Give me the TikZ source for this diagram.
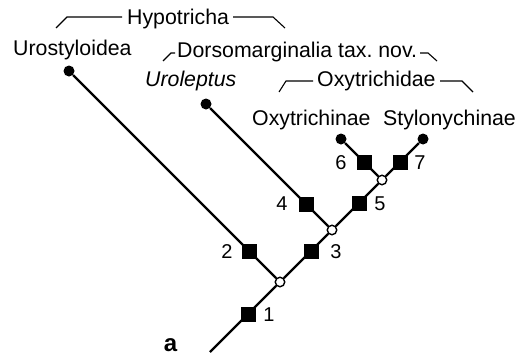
\documentclass[tikz,border=0pt]{standalone}
\usepackage{fontspec}
\setmainfont{Liberation Sans}
\frenchspacing
\begin{document}
\begin{tikzpicture}[x=1pt,y=-1pt,
  branch/.style={line width=2.2pt},
  brk/.style={line width=1.1pt},
  apo/.style={rectangle,fill=black,minimum size=15pt,inner sep=0pt},
  split/.style={circle,draw=black,fill=white,line width=1.4pt,minimum size=9.5pt,inner sep=0pt},
  tip/.style={circle,fill=black,minimum size=11pt,inner sep=0pt},
  taxon/.style={anchor=base west,inner sep=0pt,font=\fontsize{21.3}{25}\selectfont},
  num/.style={inner sep=0pt,font=\fontsize{20}{24}\selectfont}]
\useasboundingbox (0,0) rectangle (515,356);
% tree nodes
\coordinate (root) at (210,352);
\node[split] (c1) at (280,282) {};
\node[split] (c3) at (332,230) {};
\node[split] (c5) at (382,180) {};
\node[tip] (lu) at (69,71) {};
\node[tip] (lr) at (206,104) {};
\node[tip] (l6) at (341,139) {};
\node[tip] (l7) at (423,139) {};
% branches
\draw[branch] (root) -- (c1);
\draw[branch] (c1) -- (lu);
\draw[branch] (c1) -- (c3);
\draw[branch] (c3) -- (lr);
\draw[branch] (c3) -- (c5);
\draw[branch] (c5) -- (l6);
\draw[branch] (c5) -- (l7);
% apomorphies
\node[apo] (s1) at (248,314) {};
\node[apo] (s2) at (249,251) {};
\node[apo] (s3) at (311,251) {};
\node[apo] (s4) at (306,204) {};
\node[apo] (s5) at (359,203) {};
\node[apo] (s6) at (364,162) {};
\node[apo] (s7) at (400,162) {};
\node[num] (n1) at (269,315) {1};
\node[num] (n2) at (227,252) {2};
\node[num] (n3) at (336,252) {3};
\node[num] (n4) at (282,204) {4};
\node[num] (n5) at (380,204) {5};
\node[num] (n6) at (341,163) {6};
\node[num] (n7) at (420,163) {7};
% taxa
\node[taxon] (tU) at (13,55) {Urostyloidea};
\node[taxon] (tH) at (127,24) {Hypotricha};
\node[taxon] (tD) at (177,57) {Dorsomarginalia tax. nov.};
\node[taxon] (tR) at (145,86) {\itshape Uroleptus};
\node[taxon] (tO) at (317,86) {Oxytrichidae};
\node[taxon] (tOn) at (252,125) {Oxytrichinae};
\node[taxon] (tS) at (383,125) {Stylonychinae};
\node[inner sep=0pt,font=\fontsize{24}{28}\selectfont\bfseries] (pa) at (170.5,345) {a};
% brackets
\draw[brk] (56,28) -- (67,17) -- (122,17);
\draw[brk] (233,17) -- (273,17) -- (285,28);
\draw[brk] (163,61) -- (171,53) -- (175,53);
\draw[brk] (420,53) -- (428,53) -- (437,61);
\draw[brk] (279,92) -- (286,81) -- (313,81);
\draw[brk] (440,81) -- (462,81) -- (473,92);
\end{tikzpicture}
\end{document}
